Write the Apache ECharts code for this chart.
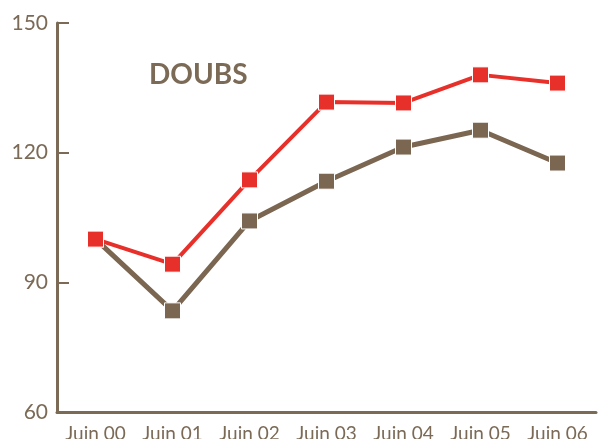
<!DOCTYPE html>
<html>
<head>
<meta charset="utf-8">
<script src="https://cdn.jsdelivr.net/npm/echarts@6/dist/echarts.min.js"></script>
<style>
  html, body { margin: 0; padding: 0; background: #fff; }
  #main { width: 598px; height: 439px; }
</style>
</head>
<body>
<div id="main"></div>
<script>
var categories = ['Juin 00', 'Juin 01', 'Juin 02', 'Juin 03', 'Juin 04', 'Juin 05', 'Juin 06'];
var doubsRed = [100, 94.2, 113.7, 131.7, 131.5, 138, 136.1];
var doubsBrown = [100, 83.4, 104.2, 113.4, 121.3, 125.2, 117.6];
var titleText = 'DOUBS';

var axisColor = '#7b6a56';
var font = 'Lato, "Open Sans", sans-serif';

var chart = echarts.init(document.getElementById('main'));

var option = {
    animation: false,
    title: {
        text: titleText,
        left: 144,
        top: 56,
        textStyle: { color: axisColor, fontSize: 28, fontWeight: 'bold', fontFamily: font }
    },
    grid: { left: 57, right: 2, top: 23, bottom: 27, containLabel: false, outerBoundsMode: 'none' },
    xAxis: {
        type: 'category',
        data: categories,
        boundaryGap: true,
        axisLine: { lineStyle: { color: axisColor, width: 3 } },
        axisTick: { inside: true, length: 9, lineStyle: { color: axisColor, width: 2 } },
        axisLabel: { color: axisColor, fontSize: 19, fontFamily: font, margin: 12, interval: 0 }
    },
    yAxis: {
        type: 'value',
        min: 60,
        max: 150,
        interval: 30,
        axisLine: { show: true, lineStyle: { color: axisColor, width: 3 } },
        axisTick: { show: true, inside: true, length: 12, lineStyle: { color: axisColor, width: 2 } },
        axisLabel: { color: axisColor, fontSize: 21, fontFamily: font, margin: 9 },
        splitLine: { show: false }
    },
    series: [
        {
            name: 'brown',
            type: 'line',
            data: doubsBrown,
            symbol: 'rect',
            symbolSize: 16,
            lineStyle: { color: '#7b6651', width: 5 },
            itemStyle: { color: '#7b6651', borderColor: '#fff', borderWidth: 1 }
        },
        {
            name: 'red',
            type: 'line',
            data: doubsRed,
            symbol: 'rect',
            symbolSize: 16,
            lineStyle: { color: '#e8302a', width: 4 },
            itemStyle: { color: '#e8302a', borderColor: '#fff', borderWidth: 1 }
        }
    ]
};

chart.setOption(option);
</script>
</body>
</html>
